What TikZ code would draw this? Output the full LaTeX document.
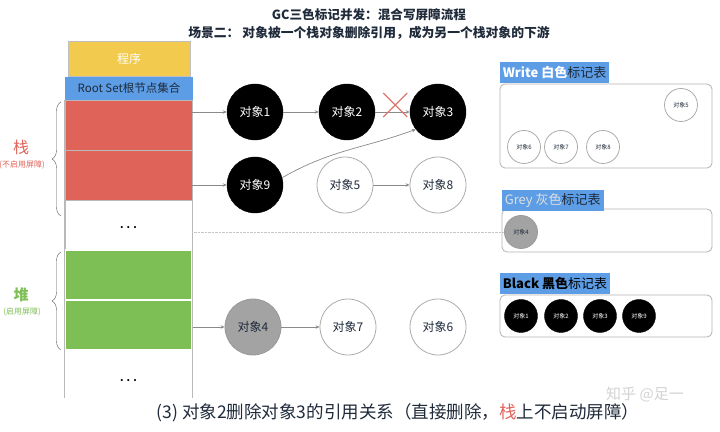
\documentclass[tikz,border=0pt]{standalone}
\usepackage{fontspec}
\setmainfont{Noto Sans CJK SC}
\usetikzlibrary{arrows.meta, positioning, calc, decorations.pathreplacing}
\definecolor{progYellow}{HTML}{F2CB4E}
\definecolor{rootBlue}{HTML}{5C9DE6}
\definecolor{stackRed}{HTML}{E0635A}
\definecolor{heapGreen}{HTML}{7DBE55}
\definecolor{objGrey}{HTML}{A3A3A3}
\definecolor{lineGray}{HTML}{8A8A8A}
\definecolor{textDark}{HTML}{1F2A3A}
\definecolor{cutRed}{HTML}{E0766A}
\tikzset{
  arrowG/.style={-{Stealth[length=4pt, width=3.5pt]}, color=lineGray, line width=0.7pt},
  cellBox/.style={rectangle, draw=gray!55, inner sep=0pt, minimum width=127pt,
                  minimum height=50pt},
  objBlack/.style={circle, draw=black, fill=black, text=white, inner sep=0pt,
                   minimum size=56pt, font=\fontsize{12}{14}\selectfont},
  objWhite/.style={circle, draw=gray!65, line width=0.8pt, fill=white, text=textDark,
                   inner sep=0pt, minimum size=56pt, font=\fontsize{12}{14}\selectfont},
  objGreyed/.style={circle, draw=gray!80, line width=0.8pt, fill=objGrey, text=textDark,
                    inner sep=0pt, minimum size=56pt, font=\fontsize{12}{14}\selectfont},
  smallObj/.style={minimum size=33pt, font=\fontsize{6}{7}\selectfont},
  tableBox/.style={rectangle, rounded corners=5pt, draw=gray!60, line width=0.8pt,
                   inner sep=0pt},
  tagBox/.style={rectangle, fill=rootBlue, text=textDark, inner xsep=3pt, inner ysep=0pt,
                 minimum height=21pt, anchor=south west, font=\fontsize{13}{15}\selectfont},
}
\begin{document}
\begin{tikzpicture}[x=1pt, y=1pt]
  \useasboundingbox (0,0) rectangle (720,431);
  % titles
  \node[font=\bfseries\fontsize{12.6}{15}\selectfont, text=textDark] (title) at (369,416)
    {GC三色标记并发：混合写屏障流程};
  \node[font=\bfseries\fontsize{12.8}{15}\selectfont, text=textDark] (subTitle) at (369,398)
    {场景二： 对象被一个栈对象删除引用，成为另一个栈对象的下游};

  % program and root set column
  \node[rectangle, draw=gray!50, fill=progYellow, text=white, minimum width=122pt,
        minimum height=35pt, inner sep=0pt, font=\fontsize{12}{14}\selectfont]
        (prog) at (129,372.5) {程序};
  \node[rectangle, fill=rootBlue, text=textDark, minimum width=128pt, minimum height=23pt,
        inner sep=0pt, font=\fontsize{11.5}{14}\selectfont]
        (rootSet) at (129,342.5) {Root Set根节点集合};
  \node[cellBox, fill=stackRed] (cell1) at (128.5,306) {};
  \node[cellBox, fill=stackRed] (cell2) at (128.5,256) {};
  \node[cellBox, fill=white] (cell3) at (128.5,206) {};
  \node[font=\bfseries] (dots1) at (128.5,203) {. . .};
  \node[cellBox, fill=heapGreen, draw=white, line width=1.5pt] (cell4) at (128.5,156) {};
  \node[cellBox, fill=heapGreen, draw=white, line width=1.5pt] (cell5) at (128.5,106) {};
  \node[font=\bfseries] (dots2) at (128.5,50) {. . .};
  \coordinate (colEnd) at (65,33);
  \draw[gray!55, line width=0.8pt] (cell1.north west) -- (cell1.north west |- colEnd);
  \draw[gray!55, line width=0.8pt] (cell1.north east) -- (cell1.north east |- colEnd);

  % braces
  \draw[decorate, decoration={brace, amplitude=9pt}, gray!70!black, thin]
    (61,215) -- (61,329);
  \node[text=stackRed, font=\fontsize{16}{18}\selectfont] (stackLbl) at (21,284) {栈};
  \node[text=stackRed, font=\fontsize{8}{9}\selectfont] (stackNote) at (22,266) {(不启用屏障)};
  \draw[decorate, decoration={brace, amplitude=9pt}, gray!70!black, thin]
    (61,81) -- (61,179);
  \node[text=heapGreen, font=\bfseries\fontsize{15}{17}\selectfont] (heapLbl) at (21,136) {堆};
  \node[text=heapGreen, font=\fontsize{8}{9}\selectfont] (heapNote) at (22,119) {(启用屏障)};

  % objects
  \node[objBlack] (obj1) at (255,319) {对象1};
  \node[objBlack] (obj2) at (347,319) {对象2};
  \node[objBlack] (obj3) at (438,319) {对象3};
  \node[objBlack] (obj9) at (255,246) {对象9};
  \node[objWhite] (obj5) at (345,246) {对象5};
  \node[objWhite] (obj8) at (438,246) {对象8};
  \node[objGreyed] (obj4) at (253,104) {对象4};
  \node[objWhite] (obj7) at (348,104) {对象7};
  \node[objWhite] (obj6) at (438,104) {对象6};

  \draw[arrowG] (cell1.east |- obj1) -- (obj1);
  \draw[arrowG] (cell2.east |- obj9) -- (obj9);
  \draw[arrowG] (cell5.east |- obj4) -- (obj4);
  \draw[arrowG] (obj1) -- (obj2);
  \draw[arrowG] (obj2) -- (obj3);
  \draw[arrowG] (obj5) -- (obj8);
  \draw[arrowG] (obj4) -- (obj7);
  \draw[arrowG] (obj9.15) to[out=30, in=200] (obj3.218);
  % deleted reference
  \coordinate (cut) at ($(obj2)!0.53!(obj3) + (0,7)$);
  \draw[cutRed, line width=1.1pt] ($(cut)+(-12,-12)$) -- ($(cut)+(12,12)$)
    ($(cut)+(-12,12)$) -- ($(cut)+(12,-12)$);

  % white table
  \node[tableBox, minimum width=212pt, minimum height=84pt] (wTable) at (606,305) {};
  \node[tagBox] (wTag) at (wTable.north west)
    {\textcolor{white}{\textbf{Write 白色}}标记表};
  \node[objWhite, smallObj] (wObj5) at (681,326) {对象5};
  \node[objWhite, smallObj] (wObj6) at (524,284) {对象6};
  \node[objWhite, smallObj] (wObj7) at (561,284) {对象7};
  \node[objWhite, smallObj] (wObj8) at (603,284) {对象8};

  % grey table
  \node[tableBox, minimum width=210pt, minimum height=43pt] (gTable) at (607,200.5) {};
  \node[tagBox] (gTag) at ([yshift=-3pt]gTable.north west)
    {\textcolor{gray!25}{Grey 灰色}标记表};
  \node[objGreyed, smallObj] (gObj4) at (521,199) {对象4};
  \draw[densely dotted, gray!45] (cell3.east |- gObj4) -- (gObj4);

  % black table
  \node[tableBox, minimum width=212pt, minimum height=42pt] (bTable) at (606,115) {};
  \node[tagBox, text=black] (bTag) at (bTable.north west)
    {\textbf{Black 黑色}标记表};
  \node[objBlack, smallObj] (bObj1) at (521,115) {对象1};
  \node[objBlack, smallObj] (bObj2) at (561,115) {对象2};
  \node[objBlack, smallObj] (bObj3) at (600,115) {对象3};
  \node[objBlack, smallObj] (bObj9) at (639,115) {对象9};

  % caption
  \node[text=gray!35, font=\fontsize{15}{17}\selectfont] (mark) at (645,37) {知乎 @足一};
  \node[text=textDark, font=\fontsize{17.5}{20}\selectfont] (caption) at (398,18)
    {(3) 对象2删除对象3的引用关系（直接删除，\textcolor{stackRed}{栈}上不启动屏障）};
\end{tikzpicture}
\end{document}
